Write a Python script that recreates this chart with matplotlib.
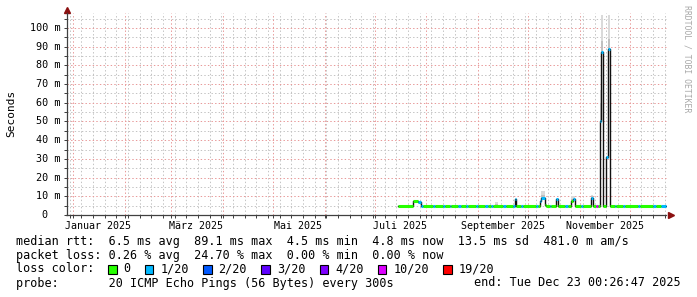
"""
SmokePing style latency chart (last 360 days), rebuilt with matplotlib.
Output: out.png (697x297 px)
"""
import matplotlib
matplotlib.use("Agg")
import matplotlib.pyplot as plt
import matplotlib.dates as mdates
from matplotlib.patches import Rectangle
from matplotlib.transforms import offset_copy, blended_transform_factory
import pandas as pd

W, H = 697, 297
END = pd.Timestamp("2025-12-23 00:26:47")
START = END - pd.Timedelta(days=360)

# median rtt in ms, each step lasts until the next start (last one until END)
seg_start = [
    "2025-07-15", "2025-07-24", "2025-07-27", "2025-07-29", "2025-07-30",
    "2025-08-05", "2025-08-06", "2025-08-11", "2025-08-12", "2025-08-15",
    "2025-08-16", "2025-08-20", "2025-08-22", "2025-08-25", "2025-08-26",
    "2025-08-31", "2025-09-01", "2025-09-05", "2025-09-07", "2025-09-09",
    "2025-09-10", "2025-09-16", "2025-09-18", "2025-09-22", "2025-09-23",
    "2025-09-24", "2025-09-27", "2025-09-28", "2025-10-06", "2025-10-07",
    "2025-10-08", "2025-10-09", "2025-10-11", "2025-10-12", "2025-10-14",
    "2025-10-15", "2025-10-18", "2025-10-19", "2025-10-23", "2025-10-25",
    "2025-10-27", "2025-10-28", "2025-10-29", "2025-11-02", "2025-11-03",
    "2025-11-08", "2025-11-09", "2025-11-11", "2025-11-12", "2025-11-13",
    "2025-11-14", "2025-11-15", "2025-11-17", "2025-11-18", "2025-11-19",
    "2025-11-22", "2025-11-23", "2025-11-27", "2025-11-28", "2025-12-06",
    "2025-12-07", "2025-12-15", "2025-12-17", "2025-12-20",
]
seg_rtt = [
    4.7, 7.3, 7.0, 4.7, 4.7,
    4.7, 4.7, 4.7, 4.7, 4.7,
    4.7, 4.7, 4.7, 4.7, 4.7,
    4.7, 4.7, 4.7, 4.7, 4.7,
    4.7, 4.7, 4.7, 4.7, 8.4,
    4.7, 4.7, 4.7, 4.7, 4.7,
    7.3, 9.0, 5.5, 4.7, 4.7,
    4.7, 8.5, 4.7, 4.7, 4.7,
    7.6, 8.5, 4.7, 5.0, 4.7,
    9.3, 4.7, 4.7, 4.7, 50.4,
    87.2, 4.7, 31.0, 88.6, 4.7,
    4.7, 4.7, 4.7, 4.7, 4.7,
    4.7, 4.7, 4.7, 4.8,
]
seg_loss = [
    0, 0, 1, 1, 0,
    1, 0, 1, 0, 1,
    0, 1, 0, 1, 0,
    1, 0, 1, 0, 1,
    0, 1, 0, 1, 1,
    0, 1, 0, 1, 0,
    1, 1, 0, 0, 1,
    0, 1, 0, 1, 0,
    0, 1, 0, 1, 0,
    1, 0, 10, 0, 1,
    1, 0, 1, 1, 0,
    1, 0, 1, 0, 1,
    0, 1, 0, 1,
]

# smoke (spread of the 20 pings) where it is visible
smoke_start = ["2025-09-11", "2025-10-09", "2025-10-27", "2025-11-08",
               "2025-11-13", "2025-11-14", "2025-11-18", "2025-12-01"]
smoke_end = ["2025-09-13", "2025-10-11", "2025-10-29", "2025-11-09",
             "2025-11-14", "2025-11-15", "2025-11-19", "2025-12-02"]
smoke_low = [4.7, 9.0, 7.6, 9.3, 50.4, 87.2, 88.6, 4.7]
smoke_mid = [5.8, 10.5, 8.6, 9.9, 60.0, 93.0, 94.0, 5.5]
smoke_high = [6.8, 12.8, 10.0, 10.7, 66.7, 107.0, 107.0, 6.4]

loss_steps = [0, 1, 2, 3, 4, 10, 19]
loss_labels = ["0", "1/20", "2/20", "3/20", "4/20", "10/20", "19/20"]
loss_colors = ["#26ff00", "#00b8ff", "#0059ff", "#5e00ff", "#7e00ff", "#dd00ff", "#ff0000"]

y_ticks = [0, 10, 20, 30, 40, 50, 60, 70, 80, 90, 100]
month_labels = ["Januar 2025", "März 2025", "Mai 2025", "Juli 2025",
                "September 2025", "November 2025"]
month_starts = ["2025-01-01", "2025-03-01", "2025-05-01", "2025-07-01",
                "2025-09-01", "2025-11-01"]

stats_line = "median rtt:  6.5 ms avg  89.1 ms max  4.5 ms min  4.8 ms now  13.5 ms sd  481.0 m am/s"
loss_line = "packet loss: 0.26 % avg  24.70 % max  0.00 % min  0.00 % now"
probe_line = "probe:       20 ICMP Echo Pings (56 Bytes) every 300s"
end_line = "end: Tue Dec 23 00:26:47 2025"

plt.rcParams["font.family"] = ["DejaVu Sans Mono"]

MAJOR = "#e89a9a"
MINOR = "#c4c4c4"
AXIS = "#404040"
ARROW = "#8b1010"


def fx(x):
    return x / W


def fy(y):
    return 1 - y / H


fig = plt.figure(figsize=(W / 100, H / 100), dpi=100)
fig.patch.set_facecolor("white")
ax = fig.add_axes([fx(66.5), fy(215), 600 / W, 202 / H])

ax.set_xlim(mdates.date2num(START), mdates.date2num(END))
ax.set_ylim(0, 108)

# grid, dotted
ax.xaxis.set_major_locator(mdates.MonthLocator())
ax.xaxis.set_minor_locator(mdates.WeekdayLocator(byweekday=mdates.MO))
ax.set_yticks(y_ticks)
ax.set_yticks([v + 5 for v in y_ticks], minor=True)
ax.grid(which="minor", color=MINOR, linestyle=(0, (1.4, 2.2)), linewidth=0.72)
ax.grid(which="major", color=MAJOR, linestyle=(0, (1.4, 2.2)), linewidth=0.72)
ax.set_axisbelow(True)
ax.tick_params(which="both", direction="out", length=2, width=0.72, color=AXIS,
               labelleft=False, labelbottom=False)
for side in ("top", "right"):
    ax.spines[side].set_visible(False)
for side in ("left", "bottom"):
    ax.spines[side].set_color(AXIS)
    ax.spines[side].set_linewidth(0.9)

# arrows at the axis ends
ax.plot([0], [1], marker="^", ms=4.5, color=ARROW, clip_on=False,
        transform=offset_copy(ax.transAxes, fig=fig, x=0, y=3, units="dots"))
ax.plot([1], [0], marker=">", ms=4.5, color=ARROW, clip_on=False,
        transform=offset_copy(ax.transAxes, fig=fig, x=4, y=0, units="dots"))

# smoke
for s, e, lo, mid, hi in zip(smoke_start, smoke_end, smoke_low, smoke_mid, smoke_high):
    xs = mdates.date2num([pd.Timestamp(s), pd.Timestamp(e)])
    ax.fill_between(xs, mid, hi, color="#dadada", linewidth=0, zorder=2)
    ax.fill_between(xs, lo, mid, color="#c0c0c0", linewidth=0, zorder=2)

# median line: black steps, loss coloured flats on top
starts = [pd.Timestamp(s) for s in seg_start]
ends = starts[1:] + [END]
px, py = [], []
for s, e, v in zip(starts, ends, seg_rtt):
    px += [s, e]
    py += [v, v]
ax.plot(mdates.date2num(px), py, color="#111111", linewidth=1.0, zorder=3)
color_of = dict(zip(loss_steps, loss_colors))
ax.hlines(seg_rtt, mdates.date2num(starts), mdates.date2num(ends),
          colors=[color_of[l] for l in seg_loss], linewidth=2.2,
          capstyle="butt", zorder=4)

# y labels (monospace, digit column aligned)
ytr = blended_transform_factory(ax.transAxes, ax.transData)
for v in y_ticks:
    if v == 0:
        ax.text(-19.5 / 600, v, "0", ha="right", va="center", fontsize=7.3,
                transform=ytr)
    else:
        ax.text(-5.5 / 600, v, f"{v} m", ha="right", va="center", fontsize=7.3,
                transform=ytr)

# month labels, centred half a month after the month start
xtr = blended_transform_factory(ax.transData, ax.transAxes)
for lab, ms in zip(month_labels, month_starts):
    xc = mdates.date2num(pd.Timestamp(ms) + pd.Timedelta(days=15))
    ax.text(xc, -11 / 202, lab, ha="center", va="center", fontsize=7.2,
            transform=xtr)

fig.text(fx(11), fy(113), "Seconds", rotation=90, ha="center", va="center",
         fontsize=8)
fig.text(fx(687), fy(5), "RRDTOOL / TOBI OETIKER", rotation=270, ha="center",
         va="top", fontsize=5.9, color="#a8a8a8")

# legend block
FS = 8.5
CH = 7.1
fig.text(fx(16), fy(241), stats_line, ha="left", va="center", fontsize=FS)
fig.text(fx(16), fy(255), loss_line, ha="left", va="center", fontsize=FS)
fig.text(fx(16), fy(269), "loss color:", ha="left", va="center", fontsize=FS)
bx = 108
for lab, col in zip(loss_labels, loss_colors):
    fig.patches.append(Rectangle((fx(bx), fy(273.5)), 8.5 / W, 9 / H,
                                 transform=fig.transFigure, facecolor=col,
                                 edgecolor="black", linewidth=0.8))
    fig.text(fx(bx + 15.5), fy(269), lab, ha="left", va="center", fontsize=FS)
    bx += 15.5 + len(lab) * CH + 14.3
fig.text(fx(16), fy(283), probe_line, ha="left", va="center", fontsize=FS)
fig.text(fx(681), fy(283), end_line, ha="right", va="center", fontsize=FS)

fig.savefig("out.png", dpi=100)
